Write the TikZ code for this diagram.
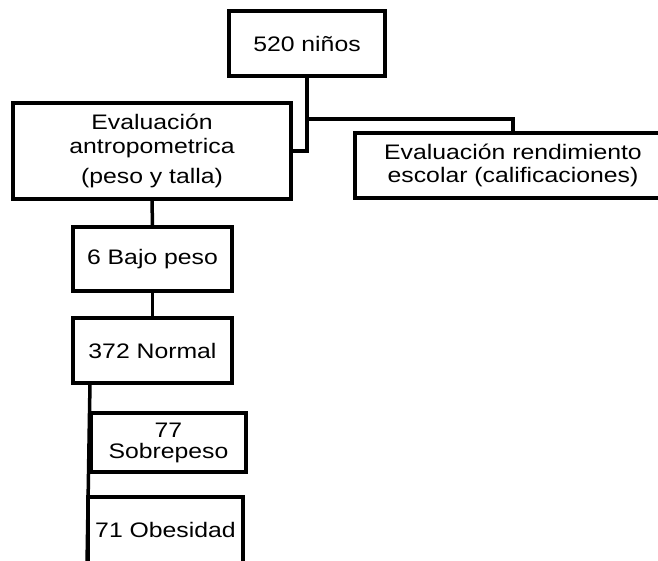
\documentclass[tikz,border=0pt]{standalone}
\usepackage{fontspec}
\setmainfont[FakeStretch=1.18]{Liberation Sans}
\usepackage{tikz}
\usetikzlibrary{calc}

\begin{document}
\begin{tikzpicture}[x=1pt,y=-1pt,
  caja/.style={draw,line width=3.5pt,inner sep=0pt,align=center,
    font=\fontsize{21}{23}\selectfont},
  linea/.style={line width=3.5pt}]
  \useasboundingbox (0,0) rectangle (658,561);
  \begin{scope}
    \clip (0,0) rectangle (658,561);
    % cajas
    \node[caja,minimum width=156pt,minimum height=65pt] (ninos) at (307,43.5) {520 niños};
    \node[caja,minimum width=278pt,minimum height=96pt,
      font=\fontsize{21}{24}\selectfont] (antro) at (152,151)
      {Evaluación\\antropometrica\\[6pt](peso y talla)};
    \node[caja,minimum width=316pt,minimum height=65pt] (rend) at (513,165.5)
      {Evaluación rendimiento\\escolar (calificaciones)};
    \node[caja,minimum width=159pt,minimum height=64pt] (bajo) at (152.5,259) {6 Bajo peso};
    \node[caja,minimum width=159pt,minimum height=65pt] (normal) at (152.5,350.5) {372 Normal};
    \node[caja,minimum width=155pt,minimum height=59pt,
      font=\fontsize{21}{21}\selectfont] (sobre) at (168.5,442.5) {77\\Sobrepeso};
    \node[caja,minimum width=155pt,minimum height=66pt] (obes) at (165.5,530) {71 Obesidad};
    % conectores
    \coordinate (rama) at (307,119);
    \draw[linea] (ninos.south) |- (antro.east);
    \draw[linea] (rama) -| (rend.north);
    \draw[linea] (antro.south) -- (bajo.north);
    \draw[linea] (bajo.south) -- (normal.north);
    \coordinate (baja) at (90,383);
    \coordinate (fin) at (87,565);
    \draw[linea] (baja) -- (fin);
  \end{scope}
\end{tikzpicture}
\end{document}
